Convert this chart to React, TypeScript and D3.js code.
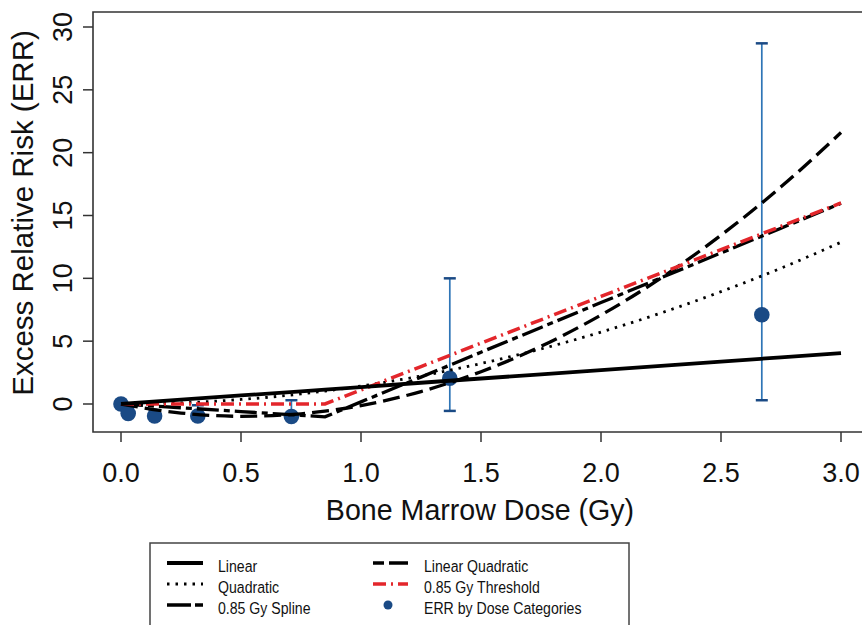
import React from "react";
import * as d3 from "d3";

// ---- data ----
const doseGrid = [0, 0.25, 0.5, 0.75, 0.85, 1.0, 1.25, 1.5, 1.75, 2.0, 2.25, 2.5, 2.75, 3.0];
const linearERR = [0, 0.34, 0.68, 1.01, 1.15, 1.35, 1.69, 2.03, 2.36, 2.7, 3.04, 3.38, 3.71, 4.05];
const linQuadERR = [0, -0.72, -0.98, -0.78, -0.57, -0.12, 0.99, 2.57, 4.59, 7.08, 10.02, 13.43, 17.28, 21.6];
const quadERR = [0, 0.09, 0.36, 0.8, 1.03, 1.43, 2.23, 3.22, 4.38, 5.72, 7.24, 8.94, 10.81, 12.87];
const thresholdERR = [0, 0, 0, 0, 0, 1.12, 2.98, 4.84, 6.7, 8.56, 10.42, 12.28, 14.14, 16.0];
const splineERR = [0, -0.3, -0.6, -0.9, -1.02, 0.17, 2.14, 4.12, 6.09, 8.07, 10.04, 12.02, 13.99, 15.97];

const catDose = [0, 0.03, 0.14, 0.32, 0.71, 1.37, 2.67];
const catERR = [0, -0.75, -0.95, -0.95, -1.0, 2.05, 7.1];
const catLow = [0, -1.0, -1.0, -1.0, -1.0, -0.55, 0.3];
const catHigh = [0, -0.3, -0.5, -0.1, 0.3, 10.0, 28.7];

const xTicks = [0, 0.5, 1.0, 1.5, 2.0, 2.5, 3.0];
const yTicks = [0, 5, 10, 15, 20, 25, 30];

const legendLabels = [
  "Linear",
  "Linear Quadratic",
  "Quadratic",
  "0.85 Gy Threshold",
  "0.85 Gy Spline",
  "ERR by Dose Categories",
];

const FONT = "'Liberation Sans', Arial, sans-serif";
const RED = "#e3262b";
const BLUE_PT = "#1a4a85";
const BLUE_BAR = "#2e75b6";

export default function App() {
  const x = d3.scaleLinear().domain([0, 3]).range([121, 841]);
  const y = d3.scaleLinear().domain([0, 30]).range([404, 27]);

  const left = 93, top = 12, bottom = 432, right = 866;

  const mk = (vals: number[], curve: d3.CurveFactory) =>
    d3
      .line<number>()
      .x((_, i) => x(doseGrid[i]))
      .y((v) => y(v))
      .curve(curve)(vals) as string;

  const series = [
    { vals: quadERR, curve: d3.curveMonotoneX, stroke: "#000", w: 2.8, dash: "2.5,6" },
    { vals: linQuadERR, curve: d3.curveMonotoneX, stroke: "#000", w: 3.3, dash: "17,7" },
    { vals: splineERR, curve: d3.curveLinear, stroke: "#000", w: 3.3, dash: "22,5,6,5" },
    { vals: thresholdERR, curve: d3.curveLinear, stroke: RED, w: 3.5, dash: "13,5,2,5" },
    { vals: linearERR, curve: d3.curveLinear, stroke: "#000", w: 3.8, dash: undefined },
  ];

  // legend geometry
  const lgX = 150, lgY = 543, lgW = 479;
  const rowY = [563, 584, 605];
  const col1 = [167, 203], col2 = [373, 408];
  const txt1 = 218, txt2 = 424;

  const legendItems = [
    { col: 0, row: 0, label: legendLabels[0], stroke: "#000", w: 3.8, dash: undefined },
    { col: 1, row: 0, label: legendLabels[1], stroke: "#000", w: 3.3, dash: "11,5,19" },
    { col: 0, row: 1, label: legendLabels[2], stroke: "#000", w: 2.8, dash: "2.5,6" },
    { col: 1, row: 1, label: legendLabels[3], stroke: RED, w: 3.5, dash: "13,5,2,5" },
    { col: 0, row: 2, label: legendLabels[4], stroke: "#000", w: 3.3, dash: "24,4,8" },
  ];

  return (
    <svg
      width={862}
      height={625}
      style={{ position: "absolute", left: 0, top: 0, background: "#fff" }}
      fontFamily={FONT}
    >
      <rect x={0} y={0} width={862} height={625} fill="#fff" />
      {/* frame */}
      <path
        d={`M${right},${top}H${left}V${bottom}H${right}`}
        fill="none"
        stroke="#333"
        strokeWidth={1.6}
      />
      {/* y ticks */}
      {yTicks.map((t) => (
        <g key={"y" + t}>
          <line x1={83} x2={left} y1={y(t)} y2={y(t)} stroke="#333" strokeWidth={1.5} />
          <text
            transform={`translate(72,${y(t)}) rotate(-90)`}
            textAnchor="middle"
            fontSize={27}
            fill="#111"
          >
            {t}
          </text>
        </g>
      ))}
      {/* x ticks */}
      {xTicks.map((t) => (
        <g key={"x" + t}>
          <line x1={x(t)} x2={x(t)} y1={bottom} y2={442} stroke="#333" strokeWidth={1.5} />
          <text x={x(t)} y={482} textAnchor="middle" fontSize={27} fill="#111">
            {t.toFixed(1)}
          </text>
        </g>
      ))}
      {/* axis titles */}
      <text x={480} y={520} textAnchor="middle" fontSize={28.6} fill="#111">
        Bone Marrow Dose (Gy)
      </text>
      <text
        transform={`translate(33,213) rotate(-90)`}
        textAnchor="middle"
        fontSize={29.5}
        fill="#111"
      >
        Excess Relative Risk (ERR)
      </text>

      {/* error bars and points */}
      {catDose.map((d, i) =>
        catHigh[i] !== catLow[i] ? (
          <g key={"e" + i}>
            <line x1={x(d)} x2={x(d)} y1={y(catLow[i])} y2={y(catHigh[i])} stroke={BLUE_BAR} strokeWidth={1.7} />
            <line x1={x(d) - 6} x2={x(d) + 6} y1={y(catLow[i])} y2={y(catLow[i])} stroke={BLUE_PT} strokeWidth={2.5} />
            <line x1={x(d) - 6} x2={x(d) + 6} y1={y(catHigh[i])} y2={y(catHigh[i])} stroke={BLUE_PT} strokeWidth={2.5} />
          </g>
        ) : null
      )}
      {catDose.map((d, i) => (
        <circle key={"p" + i} cx={x(d)} cy={y(catERR[i])} r={7.8} fill={BLUE_PT} />
      ))}

      {/* curves */}
      {series.map((s, i) => (
        <path
          key={"s" + i}
          d={mk(s.vals, s.curve)}
          fill="none"
          stroke={s.stroke}
          strokeWidth={s.w}
          strokeDasharray={s.dash}
        />
      ))}

      {/* legend */}
      <rect x={lgX} y={lgY} width={lgW} height={100} fill="#fff" stroke="#444" strokeWidth={1.5} />
      {legendItems.map((it, i) => {
        const c = it.col === 0 ? col1 : col2;
        return (
          <line
            key={"ll" + i}
            x1={c[0]}
            x2={c[1]}
            y1={rowY[it.row]}
            y2={rowY[it.row]}
            stroke={it.stroke}
            strokeWidth={it.w}
            strokeDasharray={it.dash}
          />
        );
      })}
      <circle cx={388} cy={rowY[2]} r={4.5} fill={BLUE_PT} />
      {legendItems
        .map((it) => ({ label: it.label, col: it.col, row: it.row }))
        .concat([{ label: legendLabels[5], col: 1, row: 2 }])
        .map((it, i) => {
          const tx = it.col === 0 ? txt1 : txt2;
          return (
            <text
              key={"lt" + i}
              transform={`translate(${tx},${rowY[it.row] + 9}) scale(0.83,1)`}
              fontSize={17}
              fill="#111"
            >
              {it.label}
            </text>
          );
        })}
    </svg>
  );
}
